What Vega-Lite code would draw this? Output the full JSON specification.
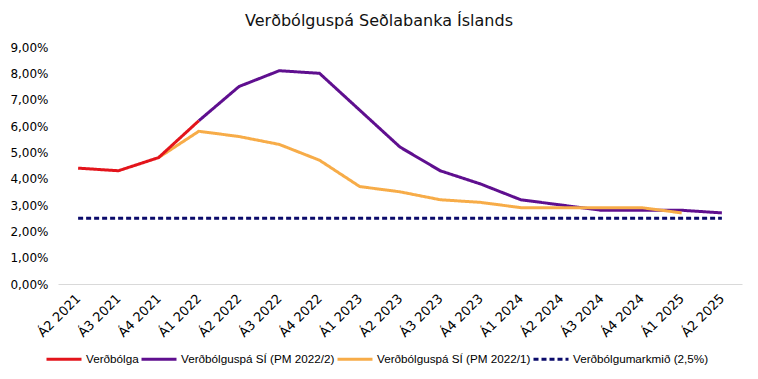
{
  "$schema": "https://vega.github.io/schema/vega-lite/v6.json",
  "autosize": "none",
  "width": 684,
  "height": 237,
  "padding": {"left": 58, "top": 47, "right": 16, "bottom": 95},
  "background": "white",
  "title": {
    "text": "Verðbólguspá Seðlabanka Íslands",
    "font": "DejaVu Sans",
    "fontSize": 16,
    "fontWeight": "normal",
    "color": "#111111",
    "anchor": "middle",
    "dx": -21,
    "offset": 12
  },
  "data": {
    "values": [
      {"q": "Á2 2021", "s": "Verðbólgumarkmið (2,5%)", "v": 2.5},
      {"q": "Á3 2021", "s": "Verðbólgumarkmið (2,5%)", "v": 2.5},
      {"q": "Á4 2021", "s": "Verðbólgumarkmið (2,5%)", "v": 2.5},
      {"q": "Á1 2022", "s": "Verðbólgumarkmið (2,5%)", "v": 2.5},
      {"q": "Á2 2022", "s": "Verðbólgumarkmið (2,5%)", "v": 2.5},
      {"q": "Á3 2022", "s": "Verðbólgumarkmið (2,5%)", "v": 2.5},
      {"q": "Á4 2022", "s": "Verðbólgumarkmið (2,5%)", "v": 2.5},
      {"q": "Á1 2023", "s": "Verðbólgumarkmið (2,5%)", "v": 2.5},
      {"q": "Á2 2023", "s": "Verðbólgumarkmið (2,5%)", "v": 2.5},
      {"q": "Á3 2023", "s": "Verðbólgumarkmið (2,5%)", "v": 2.5},
      {"q": "Á4 2023", "s": "Verðbólgumarkmið (2,5%)", "v": 2.5},
      {"q": "Á1 2024", "s": "Verðbólgumarkmið (2,5%)", "v": 2.5},
      {"q": "Á2 2024", "s": "Verðbólgumarkmið (2,5%)", "v": 2.5},
      {"q": "Á3 2024", "s": "Verðbólgumarkmið (2,5%)", "v": 2.5},
      {"q": "Á4 2024", "s": "Verðbólgumarkmið (2,5%)", "v": 2.5},
      {"q": "Á1 2025", "s": "Verðbólgumarkmið (2,5%)", "v": 2.5},
      {"q": "Á2 2025", "s": "Verðbólgumarkmið (2,5%)", "v": 2.5},
      {"q": "Á1 2022", "s": "Verðbólguspá SÍ (PM 2022/2)", "v": 6.2},
      {"q": "Á2 2022", "s": "Verðbólguspá SÍ (PM 2022/2)", "v": 7.5},
      {"q": "Á3 2022", "s": "Verðbólguspá SÍ (PM 2022/2)", "v": 8.1},
      {"q": "Á4 2022", "s": "Verðbólguspá SÍ (PM 2022/2)", "v": 8.0},
      {"q": "Á1 2023", "s": "Verðbólguspá SÍ (PM 2022/2)", "v": 6.6},
      {"q": "Á2 2023", "s": "Verðbólguspá SÍ (PM 2022/2)", "v": 5.2},
      {"q": "Á3 2023", "s": "Verðbólguspá SÍ (PM 2022/2)", "v": 4.3},
      {"q": "Á4 2023", "s": "Verðbólguspá SÍ (PM 2022/2)", "v": 3.8},
      {"q": "Á1 2024", "s": "Verðbólguspá SÍ (PM 2022/2)", "v": 3.2},
      {"q": "Á2 2024", "s": "Verðbólguspá SÍ (PM 2022/2)", "v": 3.0},
      {"q": "Á3 2024", "s": "Verðbólguspá SÍ (PM 2022/2)", "v": 2.8},
      {"q": "Á4 2024", "s": "Verðbólguspá SÍ (PM 2022/2)", "v": 2.8},
      {"q": "Á1 2025", "s": "Verðbólguspá SÍ (PM 2022/2)", "v": 2.8},
      {"q": "Á2 2025", "s": "Verðbólguspá SÍ (PM 2022/2)", "v": 2.7},
      {"q": "Á4 2021", "s": "Verðbólguspá SÍ (PM 2022/1)", "v": 4.8},
      {"q": "Á1 2022", "s": "Verðbólguspá SÍ (PM 2022/1)", "v": 5.8},
      {"q": "Á2 2022", "s": "Verðbólguspá SÍ (PM 2022/1)", "v": 5.6},
      {"q": "Á3 2022", "s": "Verðbólguspá SÍ (PM 2022/1)", "v": 5.3},
      {"q": "Á4 2022", "s": "Verðbólguspá SÍ (PM 2022/1)", "v": 4.7},
      {"q": "Á1 2023", "s": "Verðbólguspá SÍ (PM 2022/1)", "v": 3.7},
      {"q": "Á2 2023", "s": "Verðbólguspá SÍ (PM 2022/1)", "v": 3.5},
      {"q": "Á3 2023", "s": "Verðbólguspá SÍ (PM 2022/1)", "v": 3.2},
      {"q": "Á4 2023", "s": "Verðbólguspá SÍ (PM 2022/1)", "v": 3.1},
      {"q": "Á1 2024", "s": "Verðbólguspá SÍ (PM 2022/1)", "v": 2.9},
      {"q": "Á2 2024", "s": "Verðbólguspá SÍ (PM 2022/1)", "v": 2.9},
      {"q": "Á3 2024", "s": "Verðbólguspá SÍ (PM 2022/1)", "v": 2.9},
      {"q": "Á4 2024", "s": "Verðbólguspá SÍ (PM 2022/1)", "v": 2.9},
      {"q": "Á1 2025", "s": "Verðbólguspá SÍ (PM 2022/1)", "v": 2.7},
      {"q": "Á2 2021", "s": "Verðbólga", "v": 4.4},
      {"q": "Á3 2021", "s": "Verðbólga", "v": 4.3},
      {"q": "Á4 2021", "s": "Verðbólga", "v": 4.8},
      {"q": "Á1 2022", "s": "Verðbólga", "v": 6.2}
    ]
  },
  "mark": {"type": "line", "strokeWidth": 3, "strokeCap": "butt"},
  "encoding": {
    "x": {
      "field": "q",
      "type": "ordinal",
      "sort": null,
      "scale": {"type": "point", "padding": 0.5},
      "axis": {
        "title": null,
        "labelAngle": -45,
        "labelAlign": "right",
        "labelBaseline": "middle",
        "labelFont": "DejaVu Sans",
        "labelFontSize": 13,
        "labelColor": "#000000",
        "labelPadding": 12,
        "labelOverlap": false,
        "ticks": false,
        "domain": true,
        "domainColor": "#d9d9d9",
        "domainWidth": 1,
        "grid": false
      }
    },
    "y": {
      "field": "v",
      "type": "quantitative",
      "scale": {"domain": [0, 9], "nice": false},
      "axis": {
        "title": null,
        "values": [0, 1, 2, 3, 4, 5, 6, 7, 8, 9],
        "labelExpr": "replace(format(datum.value, '.2f'), '.', ',') + '%'",
        "labelFont": "DejaVu Sans",
        "labelFontSize": 12,
        "labelColor": "#000000",
        "labelPadding": 10,
        "ticks": false,
        "domain": false,
        "grid": false
      }
    },
    "color": {
      "field": "s",
      "type": "nominal",
      "scale": {
        "domain": ["Verðbólga", "Verðbólguspá SÍ (PM 2022/2)", "Verðbólguspá SÍ (PM 2022/1)", "Verðbólgumarkmið (2,5%)"],
        "range": ["#E3141B", "#5F0F8F", "#F7AC48", "#0B0B6B"]
      },
      "legend": {
        "title": null,
        "orient": "none",
        "legendX": -13,
        "legendY": 293,
        "direction": "horizontal",
        "symbolType": "stroke",
        "symbolSize": 1225,
        "symbolStrokeWidth": 3,
        "labelFont": "Liberation Sans",
        "labelFontSize": 11.7,
        "labelColor": "#000000",
        "labelOffset": 3,
        "columnPadding": -4,
        "columns": 4
      }
    },
    "strokeDash": {
      "field": "s",
      "type": "nominal",
      "scale": {
        "domain": ["Verðbólga", "Verðbólguspá SÍ (PM 2022/2)", "Verðbólguspá SÍ (PM 2022/1)", "Verðbólgumarkmið (2,5%)"],
        "range": [[1, 0], [1, 0], [1, 0], [5, 3]]
      },
      "legend": {
        "title": null,
        "orient": "none",
        "legendX": -13,
        "legendY": 293,
        "direction": "horizontal",
        "symbolType": "stroke",
        "symbolSize": 1225,
        "symbolStrokeWidth": 3,
        "labelFont": "Liberation Sans",
        "labelFontSize": 11.7,
        "labelColor": "#000000",
        "labelOffset": 3,
        "columnPadding": -4,
        "columns": 4
      }
    },
    "strokeWidth": {
      "field": "s",
      "type": "nominal",
      "scale": {
        "domain": ["Verðbólga", "Verðbólguspá SÍ (PM 2022/2)", "Verðbólguspá SÍ (PM 2022/1)", "Verðbólgumarkmið (2,5%)"],
        "range": [3, 3, 3, 2]
      },
      "legend": null
    }
  },
  "config": {"view": {"stroke": null}}
}
